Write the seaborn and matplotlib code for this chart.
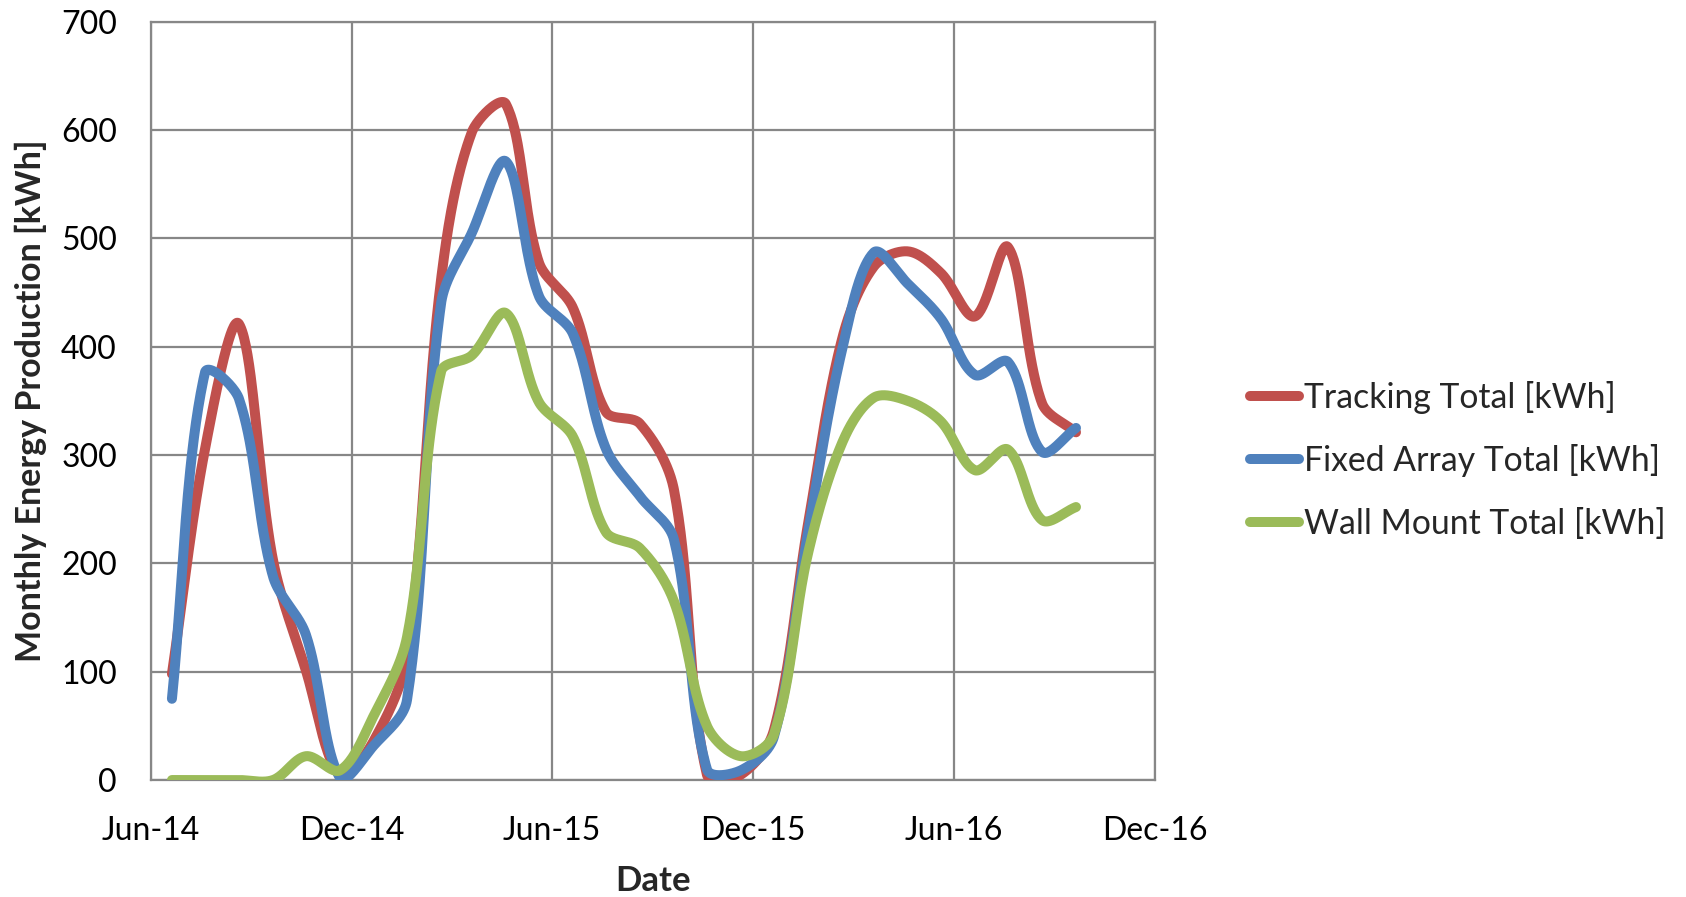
import numpy as np
import pandas as pd
import matplotlib
matplotlib.use("Agg")
import matplotlib.pyplot as plt
import matplotlib.dates as mdates
from matplotlib.lines import Line2D
import seaborn as sns

# Monthly meter readings
reading_dates = [
    "2014-06-20", "2014-07-20", "2014-08-20", "2014-09-20", "2014-10-20", "2014-11-20",
    "2014-12-20", "2015-01-20", "2015-02-20", "2015-03-20", "2015-04-20", "2015-05-20",
    "2015-06-20", "2015-07-20", "2015-08-20", "2015-09-20", "2015-10-20", "2015-11-20",
    "2015-12-20", "2016-01-20", "2016-02-20", "2016-03-20", "2016-04-20", "2016-05-20",
    "2016-06-20", "2016-07-20", "2016-08-20", "2016-09-20",
]
tracking_kwh = [98, 305, 421, 203, 101, 4, 35, 115, 462, 598, 624, 478, 436, 340,
                329, 268, 5, 5, 46, 236, 407, 474, 488, 468, 428, 492, 348, 321]
fixed_kwh = [75, 376, 352, 188, 134, 2, 31, 74, 440, 505, 571, 447, 412, 306,
             262, 222, 10, 9, 40, 228, 397, 487, 458, 426, 374, 386, 303, 325]
wall_kwh = [0, 0, 0, 0, 22, 9, 58, 132, 377, 392, 431, 349, 317, 229,
            214, 165, 50, 22, 42, 209, 311, 353, 350, 331, 286, 305, 240, 252]

series_names = ["Tracking Total [kWh]", "Fixed Array Total [kWh]", "Wall Mount Total [kWh]"]
series_values = [tracking_kwh, fixed_kwh, wall_kwh]
series_colors = ["#C0504D", "#4F81BD", "#9BBB59"]

# approximate on-screen scale (pixels per day, pixels per kWh) used for the smoothing
PX_PER_DAY = 1.097
PX_PER_KWH = 1.083


def smooth_curve(x, y, n=40):
    """Bezier smoothing through every point, control arms proportional to segment length."""
    pts = np.column_stack([np.asarray(x, float) * PX_PER_DAY, np.asarray(y, float) * PX_PER_KWH])
    m = len(pts)
    ext = np.vstack([pts[0], pts, pts[-1]])
    segs = []
    for i in range(m - 1):
        p0, p1, p2, p3 = ext[i], ext[i + 1], ext[i + 2], ext[i + 3]
        d01 = np.hypot(*(p1 - p0))
        d12 = np.hypot(*(p2 - p1))
        d23 = np.hypot(*(p3 - p2))
        a = d12 / (d01 + d12) if d01 + d12 > 0 else 0.0
        b = d12 / (d12 + d23) if d12 + d23 > 0 else 0.0
        c1 = p1 + (p2 - p0) * a / 3.0
        c2 = p2 - (p3 - p1) * b / 3.0
        t = np.linspace(0, 1, n, endpoint=(i == m - 2))[:, None]
        segs.append((1 - t) ** 3 * p1 + 3 * (1 - t) ** 2 * t * c1
                    + 3 * (1 - t) * t ** 2 * c2 + t ** 3 * p2)
    out = np.vstack(segs)
    return out[:, 0] / PX_PER_DAY, out[:, 1] / PX_PER_KWH


xnum = mdates.date2num(pd.to_datetime(reading_dates))
frames = []
for name, vals in zip(series_names, series_values):
    cx, cy = smooth_curve(xnum, vals)
    frames.append(pd.DataFrame({"date": cx, "kwh": cy, "series": name}))
df = pd.concat(frames, ignore_index=True)

sns.set_theme(style="white")
plt.rcParams["font.family"] = ["Lato", "DejaVu Sans"]

GRID = "#878787"
FS = 23
LW = 7.2

fig = plt.figure(figsize=(16.86, 8.97), dpi=100)
ax = fig.add_axes([0.0896, 0.1304, 0.5955, 0.8454])

sns.lineplot(data=df, x="date", y="kwh", hue="series", hue_order=series_names,
             palette=series_colors, sort=False, estimator=None, units="series",
             linewidth=LW, solid_capstyle="round", legend=False, ax=ax, zorder=3)

ax.set_xlim(mdates.date2num(pd.Timestamp("2014-06-01")), mdates.date2num(pd.Timestamp("2016-12-01")))
ax.set_ylim(0, 700)
ax.xaxis.set_major_locator(mdates.MonthLocator(bymonth=[6, 12], bymonthday=1))
ax.xaxis.set_major_formatter(mdates.DateFormatter("%b-%y"))
ax.set_yticks(range(0, 701, 100))

ax.grid(True, color=GRID, linewidth=1.6, zorder=0)
for sp in ax.spines.values():
    sp.set_visible(True)
    sp.set_color(GRID)
    sp.set_linewidth(1.6)
ax.tick_params(axis="both", direction="out", length=8.6, width=1.6, color=GRID,
               labelsize=FS, labelcolor="black")
ax.tick_params(axis="y", pad=16)
ax.tick_params(axis="x", pad=17)
ax.set_axisbelow(True)

ax.set_xlabel("Date", fontsize=25, fontweight="bold", labelpad=14)
ax.set_ylabel("Monthly Energy Production [kWh]", fontsize=24.5, fontweight="bold", labelpad=10)

handles = [Line2D([], [], color=c, linewidth=LW, solid_capstyle="round") for c in series_colors]
fig.legend(handles, series_names, loc="center left", bbox_to_anchor=(0.7415, 0.487),
           frameon=False, fontsize=24.3, handlelength=1.45, handletextpad=0.15,
           labelspacing=0.9, borderpad=0, borderaxespad=0)

fig.savefig("out.png", dpi=100)
